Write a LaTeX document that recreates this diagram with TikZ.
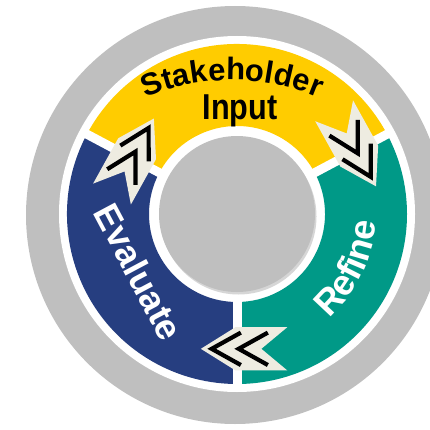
\documentclass[tikz,border=0pt]{standalone}
\usepackage{fontspec}
\setmainfont{Liberation Sans}
\newfontfamily\narrowfont{Liberation Sans}[FakeStretch=0.85]
\usetikzlibrary{decorations.text}
\definecolor{ringgray}{RGB}{191,191,191}
\definecolor{shadegray}{RGB}{214,214,214}
\definecolor{inputyellow}{RGB}{255,204,0}
\definecolor{evalblue}{RGB}{38,62,128}
\definecolor{refineteal}{RGB}{0,153,135}
\definecolor{chevbeige}{RGB}{238,236,225}
\begin{document}
\begin{tikzpicture}[x=1pt,y=1pt,
    sep/.style={white,line width=9},
    chevline/.style={black,line width=4.2,miter limit=10}]
\useasboundingbox (0,0) rectangle (430,429);
\coordinate (c) at (237,215);

\fill[ringgray] (235,214) circle (209);
\fill[white] (c) circle (178);

\begin{scope}[shift={(c)}]
    \fill[inputyellow] (28:170) arc[start angle=28,end angle=152,radius=170] -- (152:88) arc[start angle=152,end angle=28,radius=88] -- cycle;
    \fill[evalblue] (152:170) arc[start angle=152,end angle=270,radius=170] -- (270:88) arc[start angle=270,end angle=152,radius=88] -- cycle;
    \fill[refineteal] (-90:170) arc[start angle=-90,end angle=28,radius=170] -- (28:88) arc[start angle=28,end angle=-90,radius=88] -- cycle;

    \draw[sep] (28:80) -- (28:174);
    \draw[sep] (152:80) -- (152:174);
    \draw[sep] (270:80) -- (270:174);

    \fill[shadegray] (1.5,-2.5) circle (78);
    \fill[ringgray] (0,0) circle (78);

    \path[decorate,decoration={text along path,text align=center,text color=white,
        text={|\fontsize{36}{36}\selectfont\bfseries|Refine}}]
        (-66:139) arc[start angle=-66,end angle=14,radius=139];

    \begin{scope}[shift={(151:119)},rotate=61,scale=1.08]
        \fill[chevbeige] (40,0) -- (8,20) -- (-40,20) -- (-16,0) -- (-40,-20) -- (8,-20) -- cycle;
        \draw[chevline] (3,15) -- (30,0) -- (3,-15);
        \draw[chevline] (-22,15) -- (5,0) -- (-22,-15);
    \end{scope}
    \begin{scope}[shift={(29:135)},rotate=-61,scale=1.08]
        \fill[chevbeige] (40,0) -- (8,20) -- (-40,20) -- (-16,0) -- (-40,-20) -- (8,-20) -- cycle;
        \draw[chevline] (3,15) -- (30,0) -- (3,-15);
        \draw[chevline] (-22,15) -- (5,0) -- (-22,-15);
    \end{scope}
    \begin{scope}[shift={(273:135)},rotate=180,scale=1.08]
        \fill[chevbeige] (40,0) -- (8,20) -- (-40,20) -- (-16,0) -- (-40,-20) -- (8,-20) -- cycle;
        \draw[chevline] (3,15) -- (30,0) -- (3,-15);
        \draw[chevline] (-22,15) -- (5,0) -- (-22,-15);
    \end{scope}
\end{scope}

\path[decorate,decoration={text along path,text align=center,
    text={|\fontsize{31}{31}\selectfont\bfseries|Stakeholder}}]
    (232,129) ++(118:220) arc[start angle=118,end angle=62,radius=220];

\node[anchor=base,inner sep=0pt,font=\narrowfont\fontsize{36}{36}\selectfont\bfseries] (input) at (240,309) {Input};
\node[rotate=-62,inner sep=0pt,text=white,font=\fontsize{36}{36}\selectfont\bfseries] (evaluate) at (139,157) {Evaluate};

\end{tikzpicture}
\end{document}
